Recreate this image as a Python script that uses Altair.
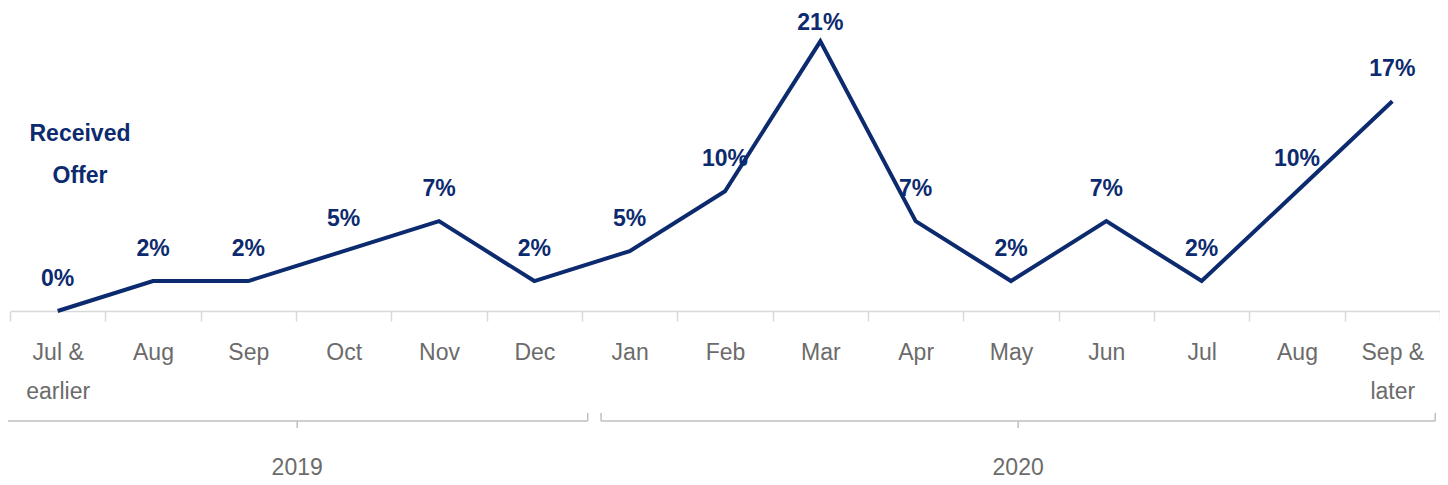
import altair as alt
import pandas as pd

categories = ["Jul &\nearlier", "Aug", "Sep", "Oct", "Nov", "Dec", "Jan", "Feb",
              "Mar", "Apr", "May", "Jun", "Jul", "Aug ", "Sep &\nlater"]
values = [0.0, 2.38, 2.38, 4.76, 7.14, 2.38, 4.76, 9.52, 21.43, 7.14, 2.38, 7.14, 2.38, 9.52, 16.67]

years = ["2019", "2020"]
year_start = [-0.035, 6.2]
year_end = [6.06, 14.95]

series_title = ["Received", "Offer"]

NAVY = "#0c2a6e"
GREY_TXT = "#6b6b6b"
FONT = "Liberation Sans Narrow, Liberation Sans, Arial, sans-serif"

df = pd.DataFrame({"cat": categories, "val": values})
yr = pd.DataFrame({"year": years, "start": year_start, "end": year_end})
yr["mid"] = (yr["start"] + yr["end"]) / 2
ttl = pd.DataFrame({"t": ["\n".join(series_title)]})

W, H = 1430, 302

xenc = alt.X("cat:N", sort=categories,
             scale=alt.Scale(type="band", paddingInner=0, paddingOuter=0),
             bandPosition=0.5,
             axis=alt.Axis(title=None, labelAngle=0, domainColor="#d9d9d9", domainWidth=1.5,
                           tickColor="#d9d9d9", tickWidth=1.5, tickSize=10, tickBand="extent",
                           labelFont=FONT, labelFontSize=23, labelColor=GREY_TXT,
                           labelPadding=20, labelLineHeight=39,
                           labelExpr="split(datum.label, '\\n')"))
yenc = alt.Y("val:Q", scale=alt.Scale(domain=[0, 24]), axis=None)

line = alt.Chart(df).mark_line(color=NAVY, strokeWidth=4).encode(x=xenc, y=yenc)

lbl_base = alt.Chart(df).transform_calculate(
    lbl="format(datum.val, '.0f') + '%'"
)
labels = lbl_base.transform_filter("datum.val < 20").mark_text(
    color=NAVY, font=FONT, fontSize=23, fontWeight="bold",
    dy=-32, baseline="middle").encode(x=xenc, y=yenc, text="lbl:N")
labels_top = lbl_base.transform_filter("datum.val >= 20").mark_text(
    color=NAVY, font=FONT, fontSize=23, fontWeight="bold",
    dy=-18, baseline="middle").encode(x=xenc, y=yenc, text="lbl:N")

title = alt.Chart(ttl).mark_text(color=NAVY, font=FONT, fontSize=23, fontWeight="bold",
                                 lineBreak="\n", lineHeight=42, align="center",
                                 baseline="middle").encode(
    x=alt.value(70), y=alt.value(125), text="t:N")

main = alt.layer(line, labels, labels_top, title)

qx = alt.Scale(domain=[0, 15])
bcol = "#bfbfbf"
hline = alt.Chart(yr).mark_rule(color=bcol, strokeWidth=1.5).encode(
    x=alt.X("start:Q", scale=qx, axis=None), x2="end:Q", y=alt.value(412))
lend = alt.Chart(yr).mark_rule(color=bcol, strokeWidth=1.5).encode(
    x=alt.X("start:Q", scale=qx, axis=None), y=alt.value(404), y2=alt.value(412))
rend = alt.Chart(yr).mark_rule(color=bcol, strokeWidth=1.5).encode(
    x=alt.X("end:Q", scale=qx, axis=None), y=alt.value(404), y2=alt.value(412))
ctick = alt.Chart(yr).mark_rule(color=bcol, strokeWidth=1.5).encode(
    x=alt.X("mid:Q", scale=qx, axis=None), y=alt.value(412), y2=alt.value(419))
ylab = alt.Chart(yr).mark_text(color=GREY_TXT, font=FONT, fontSize=23, baseline="middle").encode(
    x=alt.X("mid:Q", scale=qx, axis=None), y=alt.value(459), text="year:N")

brackets = alt.layer(hline, lend, rend, ctick, ylab)

chart = alt.layer(main, brackets).resolve_scale(x="independent").properties(
    width=W, height=H,
    autosize=alt.AutoSizeParams(type="none"),
    padding={"left": 2, "top": 1, "right": 0, "bottom": 174},
    view=alt.ViewBackground(stroke="transparent", strokeWidth=0),
).configure_view(stroke="transparent", strokeWidth=0).configure(background="white")

chart.save("out.html", embed_options={"renderer": "svg", "actions": False})
